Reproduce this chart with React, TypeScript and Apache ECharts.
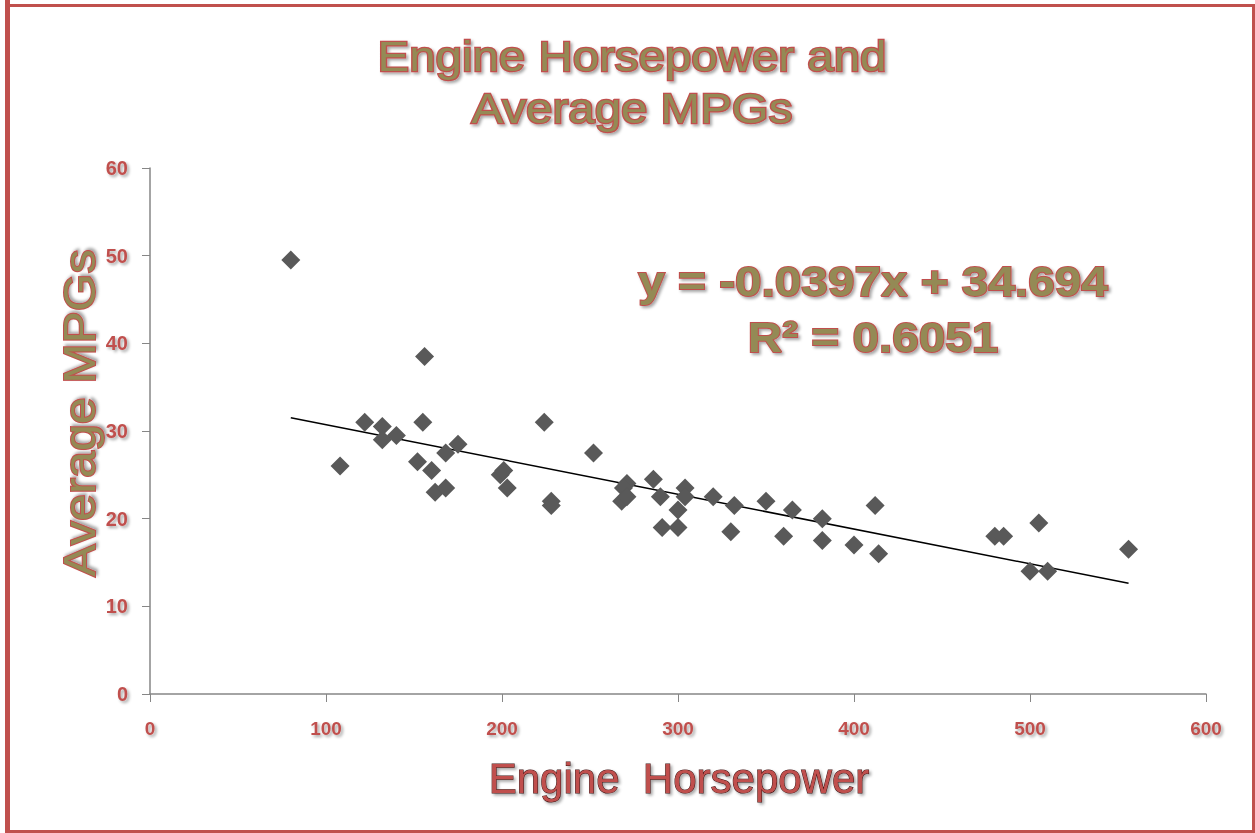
import React, { useEffect, useRef } from "react";
import * as echarts from "echarts";

const horsepower = [
  80, 108, 122, 132, 132, 140, 155, 156, 152, 160, 162, 168, 168, 175,
  199, 201, 203, 224, 228, 228, 252, 271, 269, 268, 271, 286, 290, 291,
  300, 300, 304, 304, 320, 332, 330, 350, 365, 360, 382, 382, 400, 412,
  414, 480, 485, 505, 500, 510, 556,
];
const avgMpg = [
  49.5, 26, 31, 30.5, 29, 29.5, 31, 38.5, 26.5, 25.5, 23, 23.5, 27.5, 28.5,
  25, 25.5, 23.5, 31, 22, 21.5, 27.5, 24, 23.5, 22, 22.5, 24.5, 22.5, 19,
  19, 21, 23.5, 22.5, 22.5, 21.5, 18.5, 22, 21, 18, 20, 17.5, 17, 21.5,
  16, 18, 18, 19.5, 14, 14, 16.5,
];
const xTicks = [0, 100, 200, 300, 400, 500, 600];
const yTicks = [0, 10, 20, 30, 40, 50, 60];
const slope = -0.0397;
const intercept = 34.694;
const trendRange = [80, 556];

const RED = "#c0504d";
const OLIVE = "#948a54";

export default function App() {
  const ref = useRef<HTMLDivElement>(null);
  useEffect(() => {
    document.body.style.margin = "0";
    const chart = echarts.init(ref.current!, undefined, { renderer: "svg" });
    const points = horsepower.map((h, i) => [h, avgMpg[i]]);
    const trend = trendRange.map((x) => [x, slope * x + intercept]);
    const shadow = {
      textShadowColor: "rgba(0,0,0,0.35)",
      textShadowBlur: 3,
      textShadowOffsetX: 2,
      textShadowOffsetY: 2,
    };
    chart.setOption({
      animation: false,
      backgroundColor: "#ffffff",
      grid: { left: 150, right: 49, top: 168, bottom: 139 },
      xAxis: {
        type: "value",
        min: xTicks[0],
        max: xTicks[xTicks.length - 1],
        interval: 100,
        splitLine: { show: false },
        axisLine: { show: true, lineStyle: { color: "#868686", width: 1.5 } },
        axisTick: { show: true, length: 8, lineStyle: { color: "#868686" } },
        axisLabel: {
          margin: 25,
          color: RED,
          fontFamily: "Liberation Sans",
          fontWeight: "bold",
          fontSize: 19,
          ...shadow,
        },
      },
      yAxis: {
        type: "value",
        min: yTicks[0],
        max: yTicks[yTicks.length - 1],
        interval: 10,
        splitLine: { show: false },
        axisLine: { show: true, lineStyle: { color: "#868686", width: 1.5 } },
        axisTick: { show: true, length: 8, lineStyle: { color: "#868686" } },
        axisLabel: {
          margin: 22,
          color: RED,
          fontFamily: "Liberation Sans",
          fontWeight: "bold",
          fontSize: 20,
          ...shadow,
        },
      },
      series: [
        {
          type: "scatter",
          data: points,
          symbol: "diamond",
          symbolSize: 19,
          itemStyle: { color: "#595959", opacity: 1 },
          z: 3,
        },
        {
          type: "line",
          data: trend,
          symbol: "none",
          lineStyle: { color: "#000000", width: 1.5 },
          z: 2,
        },
      ],
      graphic: [
        { type: "rect", shape: { x: 5, y: 0, width: 5, height: 833 }, style: { fill: RED } },
        { type: "rect", shape: { x: 5, y: 4, width: 1250, height: 3 }, style: { fill: RED } },
        { type: "rect", shape: { x: 1252, y: 4, width: 3, height: 829 }, style: { fill: RED } },
        { type: "rect", shape: { x: 5, y: 830, width: 1250, height: 3 }, style: { fill: RED } },
        {
          type: "text",
          x: 632,
          y: 82,
          scaleX: 1.13,
          style: {
            text: "Engine Horsepower and\nAverage MPGs",
            fontFamily: "Liberation Sans",
            fontSize: 42,
            lineHeight: 53,
            fill: OLIVE,
            stroke: RED,
            lineWidth: 2.5,
            align: "center",
            verticalAlign: "middle",
            ...shadow,
          },
        },
        {
          type: "text",
          x: 873,
          y: 309,
          scaleX: 1.11,
          style: {
            text: "y = -0.0397x + 34.694\nR² = 0.6051",
            fontFamily: "Liberation Sans",
            fontWeight: "bold",
            fontSize: 43,
            lineHeight: 56,
            fill: OLIVE,
            stroke: RED,
            lineWidth: 2,
            align: "center",
            verticalAlign: "middle",
            ...shadow,
          },
        },
        {
          type: "text",
          x: 80,
          y: 413,
          rotation: Math.PI / 2,
          scaleX: 1.1,
          style: {
            text: "Average MPGs",
            fontFamily: "Liberation Sans",
            fontSize: 44,
            fill: OLIVE,
            stroke: RED,
            lineWidth: 2,
            align: "center",
            verticalAlign: "middle",
            ...shadow,
          },
        },
        {
          type: "text",
          x: 679,
          y: 778,
          style: {
            text: "Engine  Horsepower",
            fontFamily: "Liberation Sans",
            fontSize: 42,
            fill: RED,
            stroke: "#3a1010",
            lineWidth: 1,
            align: "center",
            verticalAlign: "middle",
            ...shadow,
          },
        },
      ],
    });
    return () => chart.dispose();
  }, []);
  return (
    <div
      ref={ref}
      style={{ position: "absolute", left: 0, top: 0, width: 1255, height: 833 }}
    />
  );
}
